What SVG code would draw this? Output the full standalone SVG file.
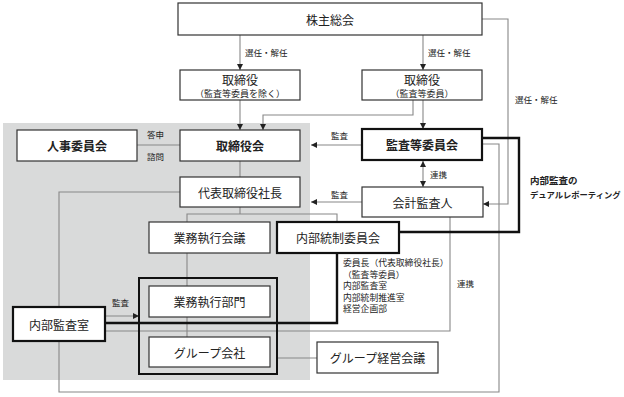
<svg xmlns="http://www.w3.org/2000/svg" width="624" height="397" viewBox="0 0 624 397">
<style>
text{font-family:"Noto Sans CJK JP","Noto Sans",sans-serif;fill:#222;}
.box{fill:#fff;stroke:#333;stroke-width:1.2;}
.tbox{fill:#fff;stroke:#111;stroke-width:2.2;}
.t{font-size:12px;text-anchor:middle;dominant-baseline:central;}
.b{font-weight:bold;}
.s{font-size:9px;text-anchor:middle;dominant-baseline:central;}
.lbl{font-size:8.5px;dominant-baseline:central;}
.m{font-size:8.8px;dominant-baseline:central;}
.c{fill:none;stroke:#888;stroke-width:1.1;}
.thick{fill:none;stroke:#111;stroke-width:2.4;}
</style>
<defs>
<marker id="ah" viewBox="0 0 10 10" refX="10" refY="5" markerWidth="6" markerHeight="6" markerUnits="userSpaceOnUse" orient="auto-start-reverse">
<path d="M0,0 L10,5 L0,10 z" fill="#222"/>
</marker>
</defs>
<rect x="3" y="123" width="307" height="257" fill="#d9dada"/>
<g id="connectors">
<path class="c" d="M240,35 V70" marker-end="url(#ah)"/>
<path class="c" d="M423,35 V70" marker-end="url(#ah)"/>
<path class="c" d="M482,19 H508 V204 H483" marker-end="url(#ah)"/>
<path class="c" d="M240,100 V130" marker-end="url(#ah)"/>
<path class="c" d="M413,100 V115 H263 V130" marker-end="url(#ah)"/>
<path class="c" d="M423,100 V129" marker-end="url(#ah)"/>
<path class="c" d="M362,145 H311" marker-end="url(#ah)"/>
<path class="c" d="M423,161 V187" marker-start="url(#ah)" marker-end="url(#ah)"/>
<path class="c" d="M362,202 H311" marker-end="url(#ah)"/>
<path class="c" d="M137,145 H180"/>
<path class="c" d="M240,161 V177"/>
<path class="c" d="M240,207 V214"/>
<path class="c" d="M187,222 V214 H337 V222"/>
<path class="c" d="M187,253 V286"/>
<path class="c" d="M187,317 V337"/>
<path class="c" d="M180,192 H59 V307"/>
<path class="c" d="M59,341 V392 H499 V144 H482"/>
<path class="c" d="M105,316 H139" marker-end="url(#ah)"/>
<path class="c" d="M105,331 H450 V217"/>
<path class="c" d="M277,358 H317"/>
<path class="thick" d="M105,323 H337 V253"/>
<path class="thick" d="M399,232 H519 V138 H482"/>
<text class="lbl" x="245" y="52">選任・解任</text>
<text class="lbl" x="428" y="52">選任・解任</text>
<text class="lbl" x="515" y="99">選任・解任</text>
<text class="lbl" x="147" y="134">答申</text>
<text class="lbl" x="147" y="156">諮問</text>
<text class="lbl" x="331" y="135">監査</text>
<text class="lbl" x="331" y="194">監査</text>
<text class="lbl" x="430" y="174">連携</text>
<text class="lbl" x="112" y="302">監査</text>
<text class="lbl" x="457" y="283">連携</text>
<text class="lbl b" x="530" y="180" style="font-size:9.5px">内部監査の</text>
<text class="lbl b" x="530" y="194" style="font-size:8.3px">デュアルレポーティング</text>
</g>
<g id="kabunushi"><rect class="box" x="178" y="3" width="304" height="32"/><text class="t" x="330" y="19">株主総会</text></g>
<g id="torishimari1"><rect class="box" x="180" y="70" width="120" height="30"/><text class="t" x="240" y="79">取締役</text><text class="s" x="240" y="93">（監査等委員を除く）</text></g>
<g id="torishimari2"><rect class="box" x="362" y="70" width="120" height="30"/><text class="t" x="422" y="79">取締役</text><text class="s" x="422" y="93">（監査等委員）</text></g>
<g id="jinji"><rect class="box" x="17" y="130" width="120" height="31"/><text class="t b" x="77" y="145.5">人事委員会</text></g>
<g id="torishimarikai"><rect class="box" x="180" y="130" width="120" height="31"/><text class="t b" x="240" y="145.5">取締役会</text></g>
<g id="kansatou"><rect class="tbox" x="362" y="129" width="120" height="31"/><text class="t b" x="422" y="144.5">監査等委員会</text></g>
<g id="shacho"><rect class="box" x="180" y="177" width="120" height="30"/><text class="t" x="240" y="192">代表取締役社長</text></g>
<g id="kaikei"><rect class="box" x="362" y="187" width="121" height="30"/><text class="t" x="422.5" y="202">会計監査人</text></g>
<g id="gyomukaigi"><rect class="box" x="149" y="222" width="121" height="31"/><text class="t" x="209.5" y="237.5">業務執行会議</text></g>
<g id="naibutousei"><rect class="tbox" x="277" y="222" width="122" height="31"/><text class="t" x="338" y="237.5">内部統制委員会</text></g>
<g id="members">
<text class="m" x="343" y="262.5">委員長（代表取締役社長）</text>
<text class="m" x="343" y="274">（監査等委員）</text>
<text class="m" x="343" y="285.5">内部監査室</text>
<text class="m" x="343" y="297">内部統制推進室</text>
<text class="m" x="343" y="308.5">経営企画部</text>
</g>
<g id="frame"><rect x="139" y="278" width="138" height="96" fill="none" stroke="#111" stroke-width="2"/></g>
<g id="gyomubumon"><rect class="box" x="149" y="286" width="121" height="31"/><text class="t" x="209.5" y="301.5">業務執行部門</text></g>
<g id="group"><rect class="box" x="149" y="337" width="121" height="30"/><text class="t" x="209.5" y="352">グループ会社</text></g>
<g id="naibukansa"><rect class="tbox" x="13" y="307" width="92" height="34"/><text class="t" x="59" y="324">内部監査室</text></g>
<g id="groupkeiei"><rect class="box" x="317" y="342" width="121" height="31"/><text class="t" x="377.5" y="357.5">グループ経営会議</text></g>
</svg>
